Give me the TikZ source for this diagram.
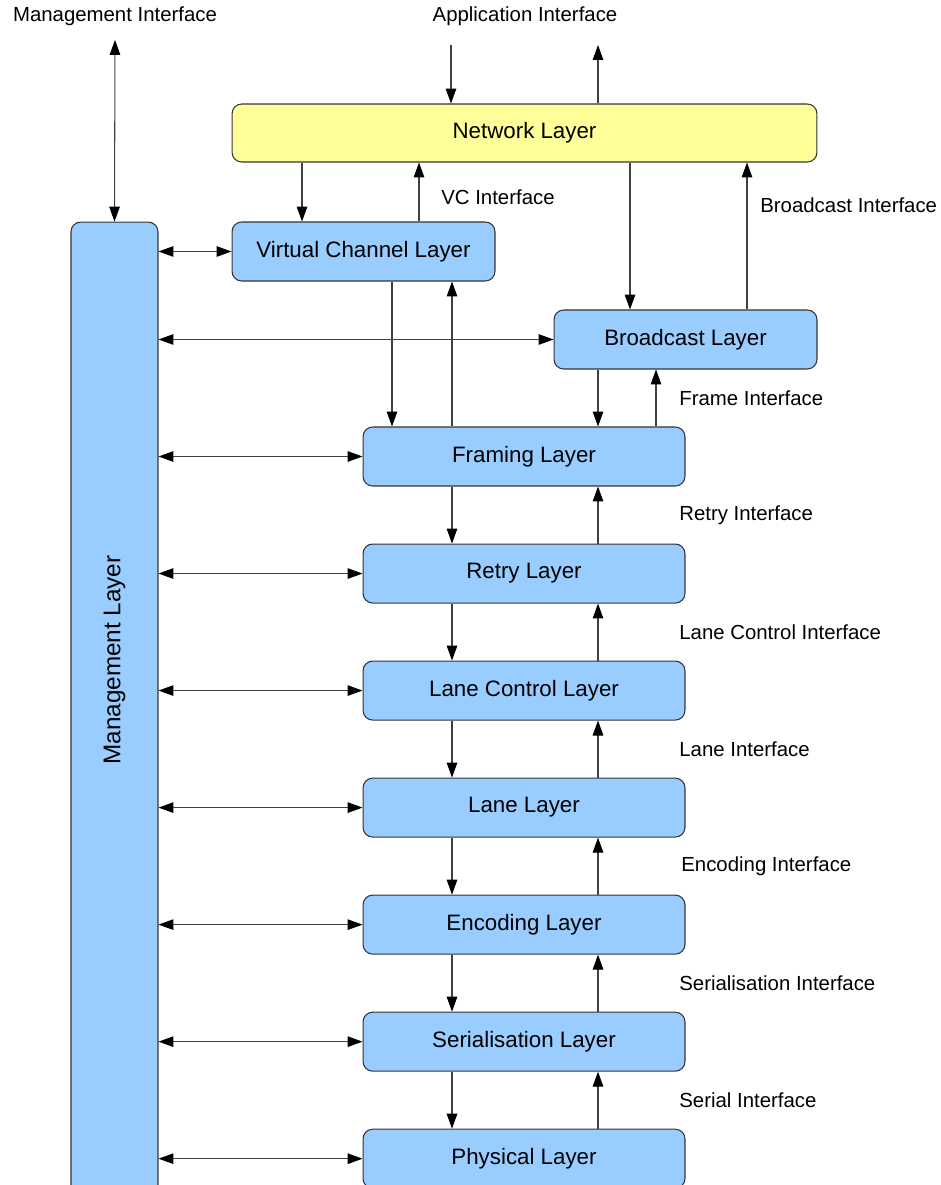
\documentclass[tikz,border=0pt]{standalone}
\usepackage{fontspec}
\setmainfont{Liberation Sans}
\usetikzlibrary{arrows.meta, positioning}
\definecolor{layerblue}{HTML}{99CCFF}
\definecolor{netyellow}{HTML}{FFFF99}
\definecolor{edgegray}{HTML}{333333}
\tikzstyle{layer} = [rectangle, rounded corners=5.5pt, minimum width=6.44cm, minimum height=1.18cm,
                     text centered, draw=edgegray, fill=layerblue, line width=0.6pt,
                     font=\fontsize{12.7}{15}\selectfont]
\tikzstyle{iflabel} = [anchor=west, inner sep=0pt, font=\fontsize{11.6}{14}\selectfont]
\tikzstyle{arrow} = [-{Triangle[length=8.5pt, width=6pt, black]}, line width=0.6pt, draw=black!75]
\tikzstyle{dblarrow} = [{Triangle[length=8.5pt, width=6pt, black]}-{Triangle[length=8.5pt, width=6pt, black]},
                        line width=0.6pt, draw=black!75]

\begin{document}
\begin{tikzpicture}[x=0.02cm, y=-0.02cm]
    \clip (0,0) rectangle (940,1185);

    % layers
    \node[layer, fill=netyellow, minimum width=11.7cm, minimum height=1.16cm] (network) at (524.5,133) {Network Layer};
    \node[layer, minimum width=5.26cm] (vc) at (363.5,251.5) {Virtual Channel Layer};
    \node[layer, minimum width=5.26cm] (broadcast) at (685.5,339.5) {Broadcast Layer};
    \node[layer] (framing) at (524,456.5) {Framing Layer};
    \node[layer, below=1.14cm of framing] (retry) {Retry Layer};
    \node[layer, below=1.14cm of retry] (lanectrl) {Lane Control Layer};
    \node[layer, below=1.14cm of lanectrl] (lane) {Lane Layer};
    \node[layer, below=1.14cm of lane] (encoding) {Encoding Layer};
    \node[layer, below=1.14cm of encoding] (serialisation) {Serialisation Layer};
    \node[layer, below=1.14cm of serialisation] (physical) {Physical Layer};

    \node[layer, minimum width=1.74cm, minimum height=19.56cm] (mgmt) at (114.5,711) {};
    \node[rotate=90, font=\fontsize{13.8}{16}\selectfont] (mgmttext) at (114.5,660) {Management Layer};

    % external interfaces
    \coordinate (mgmtif) at (115,40);
    \coordinate (appin) at (451,45);
    \coordinate (appout) at (598,45);
    \node[font=\fontsize{11.6}{14}\selectfont] (mgmtiftext) at (115,16) {Management Interface};
    \node[font=\fontsize{11.6}{14}\selectfont] (appiftext) at (525,16) {Application Interface};

    \draw[dblarrow] (mgmtif) -- (mgmt.north);
    \draw[arrow] (appin) -- (network.north -| appin);
    \draw[arrow] (network.north -| appout) -- (appout);

    % network <-> vc / broadcast
    \draw[arrow] (network.south -| 302,0) -- (vc.north -| 302,0);
    \draw[arrow] (vc.north -| 419,0) -- (network.south -| 419,0);
    \draw[arrow] (network.south -| 630,0) -- (broadcast.north -| 630,0);
    \draw[arrow] (broadcast.north -| 747,0) -- (network.south -| 747,0);

    % vc / broadcast <-> framing
    \draw[arrow] (vc.south -| 392,0) -- (framing.north -| 392,0);
    \draw[arrow] (framing.north -| 452,0) -- (vc.south -| 452,0);
    \draw[arrow] (broadcast.south -| 598,0) -- (framing.north -| 598,0);
    \draw[arrow] (framing.north -| 656,0) -- (broadcast.south -| 656,0);

    % the stack
    \draw[arrow] (framing.south -| 452,0) -- (retry.north -| 452,0);
    \draw[arrow] (retry.north -| 598,0) -- (framing.south -| 598,0);
    \draw[arrow] (retry.south -| 452,0) -- (lanectrl.north -| 452,0);
    \draw[arrow] (lanectrl.north -| 598,0) -- (retry.south -| 598,0);
    \draw[arrow] (lanectrl.south -| 452,0) -- (lane.north -| 452,0);
    \draw[arrow] (lane.north -| 598,0) -- (lanectrl.south -| 598,0);
    \draw[arrow] (lane.south -| 452,0) -- (encoding.north -| 452,0);
    \draw[arrow] (encoding.north -| 598,0) -- (lane.south -| 598,0);
    \draw[arrow] (encoding.south -| 452,0) -- (serialisation.north -| 452,0);
    \draw[arrow] (serialisation.north -| 598,0) -- (encoding.south -| 598,0);
    \draw[arrow] (serialisation.south -| 452,0) -- (physical.north -| 452,0);
    \draw[arrow] (physical.north -| 598,0) -- (serialisation.south -| 598,0);

    % management links
    \draw[dblarrow] (mgmt.east |- vc.west) -- (vc.west);
    \draw[dblarrow] (mgmt.east |- broadcast.west) -- (broadcast.west);
    \draw[dblarrow] (mgmt.east |- framing.west) -- (framing.west);
    \draw[dblarrow] (mgmt.east |- retry.west) -- (retry.west);
    \draw[dblarrow] (mgmt.east |- lanectrl.west) -- (lanectrl.west);
    \draw[dblarrow] (mgmt.east |- lane.west) -- (lane.west);
    \draw[dblarrow] (mgmt.east |- encoding.west) -- (encoding.west);
    \draw[dblarrow] (mgmt.east |- serialisation.west) -- (serialisation.west);
    \draw[dblarrow] (mgmt.east |- physical.west) -- (physical.west);

    % interface labels
    \node[iflabel] (vcif) at (441,197) {VC Interface};
    \node[iflabel] (bcif) at (760,205) {Broadcast Interface};
    \node[iflabel] (frameif) at (679,398) {Frame Interface};
    \node[iflabel] (retryif) at (679,515) {Retry Interface};
    \node[iflabel] (lanectrlif) at (679,632) {Lane Control Interface};
    \node[iflabel] (laneif) at (679,749) {Lane Interface};
    \node[iflabel] (encodingif) at (681,866) {Encoding Interface};
    \node[iflabel] (serialisationif) at (679,983) {Serialisation Interface};
    \node[iflabel] (serialif) at (679,1100) {Serial Interface};
\end{tikzpicture}
\end{document}
